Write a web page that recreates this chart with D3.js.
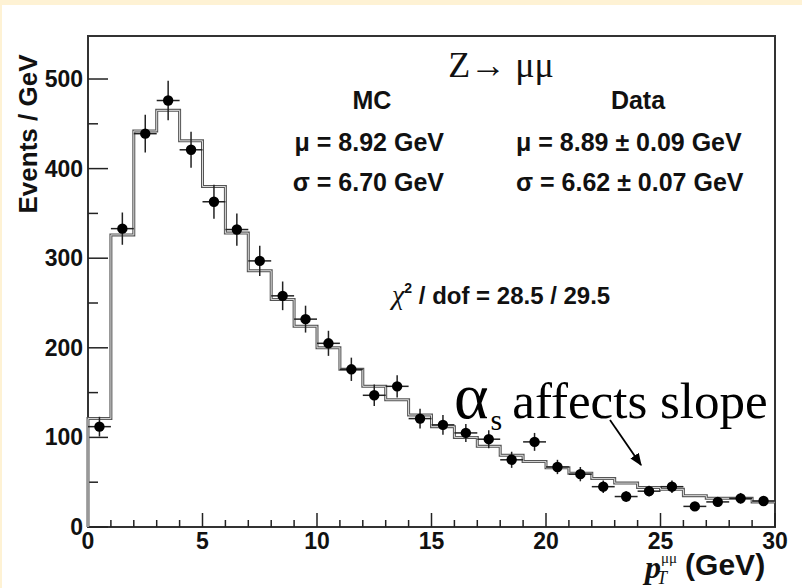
<!DOCTYPE html>
<html><head><meta charset="utf-8">
<script src="https://cdn.jsdelivr.net/npm/d3@7"></script>
<style>
html,body{margin:0;padding:0;background:#fff;}
svg{display:block;}
</style></head>
<body>
<script>
// ---- data ----
const binEdgesLow = d3.range(0, 30, 1); // bin low edges (GeV)
const mcValues = [121,326,442,465,431,380,328,286,254,224,200,176,157,142,125,112,100,90,80,73,66,60,54,49,44,42,35,32,32,28];
const dataCenters = [0.5,1.5,2.5,3.5,4.5,5.5,6.5,7.5,8.5,9.5,10.5,11.5,12.5,13.5,14.5,15.5,16.5,17.5,18.5,19.5,20.5,21.5,22.5,23.5,24.5,25.5,26.5,27.5,28.5,29.5];
const dataValues = [112,333,439,476,421,363,332,297,258,232,205,176,147,157,121,114,105,98,75,95,67,59,45,34,40,45,23,28,32,29];
const dataErrors = [11,18,21,22,20,19,18,17,16,15,14,13,12,12.5,11,11,10,10,9,10,8,8,7,6,6,7,5,5,6,5];
const xTicks = [0,5,10,15,20,25,30];
const yTicks = [0,100,200,300,400,500];

const W = 802, H = 588;
const svg = d3.select("body").append("svg").attr("width", W).attr("height", H);
const sans = "Liberation Sans, Arial, sans-serif";
const serif = "Liberation Serif, Times New Roman, serif";

// cream strips
svg.append("rect").attr("x",0).attr("y",0).attr("width",W).attr("height",5).attr("fill","#fef2d4");
svg.append("rect").attr("x",0).attr("y",0).attr("width",2).attr("height",H).attr("fill","#fef2d4");

const L = 88, R = 775, T = 36, B = 527;
const x = d3.scaleLinear().domain([0,30]).range([L,R]);
const y = d3.scaleLinear().domain([0,548]).range([B,T]);

// frame
svg.append("rect").attr("x",L).attr("y",T).attr("width",R-L).attr("height",B-T)
  .attr("fill","none").attr("stroke","#333").attr("stroke-width",2);

// ticks (inside, ROOT style)
const minorX = d3.range(0,31,1);
svg.append("g").selectAll("line").data(minorX).join("line")
  .attr("x1",d=>x(d)).attr("x2",d=>x(d)).attr("y1",B)
  .attr("y2",d=> d%5===0 ? B-14 : B-7)
  .attr("stroke","#222").attr("stroke-width",1.5);
const minorY = d3.range(0,548,50);
svg.append("g").selectAll("line").data(minorY).join("line")
  .attr("y1",d=>y(d)).attr("y2",d=>y(d)).attr("x1",L)
  .attr("x2",d=> d%100===0 ? L+20 : L+10)
  .attr("stroke","#222").attr("stroke-width",1.5);

// tick labels
svg.append("g").selectAll("text").data(xTicks).join("text")
  .attr("x",d=>x(d)).attr("y",549).attr("text-anchor","middle")
  .attr("font-family",sans).attr("font-weight","bold")
  .attr("font-size",23).attr("fill","#111").text(d=>d);
svg.append("g").selectAll("text").data(yTicks).join("text")
  .attr("x",83).attr("y",d=>y(d)+8).attr("text-anchor","end")
  .attr("font-family",sans).attr("font-weight","bold")
  .attr("font-size",23).attr("fill","#111").text(d=>d);

// axis titles
svg.append("text").attr("transform","translate(37,134) rotate(-90)")
  .attr("text-anchor","middle")
  .attr("font-family",sans).attr("font-weight","bold")
  .attr("font-size",26).attr("fill","#111").text("Events / GeV");

const xt = svg.append("text").attr("x",645).attr("y",578)
  .attr("font-family",serif).attr("fill","#111");
xt.append("tspan").attr("font-style","italic").attr("font-weight","bold").attr("font-size",32).text("p");
xt.append("tspan").attr("font-style","italic").attr("font-size",18).attr("dx",-4).attr("dy",6).text("T");
xt.append("tspan").attr("font-size",15).attr("dx",-6).attr("dy",-21).text("μμ");
xt.append("tspan").attr("font-family",sans).attr("font-weight","bold").attr("font-size",30)
  .attr("dx",8).attr("dy",12).text("(GeV)");

// MC histogram (step)
const stepPts = [];
stepPts.push([x(0), y(0)]);
binEdgesLow.forEach((lo,i)=>{
  stepPts.push([x(lo), y(mcValues[i])]);
  stepPts.push([x(lo+1), y(mcValues[i])]);
});
const line = d3.line();
svg.append("path").attr("d", line(stepPts)).attr("fill","none")
  .attr("stroke","#555").attr("stroke-width",3);
svg.append("path").attr("d", line(stepPts)).attr("fill","none")
  .attr("stroke","#ddd").attr("stroke-width",1);

// data points with error bars
const g = svg.append("g");
dataCenters.forEach((c,i)=>{
  const v = dataValues[i], e = dataErrors[i];
  g.append("line").attr("x1",x(c-0.5)).attr("x2",x(c+0.5)).attr("y1",y(v)).attr("y2",y(v))
    .attr("stroke","#222").attr("stroke-width",1.5);
  g.append("line").attr("x1",x(c)).attr("x2",x(c)).attr("y1",y(v-e)).attr("y2",y(v+e))
    .attr("stroke","#222").attr("stroke-width",1.5);
  g.append("circle").attr("cx",x(c)).attr("cy",y(v)).attr("r",5.2).attr("fill","#000");
});

// annotations
svg.append("text").attr("x",501).attr("y",77).attr("text-anchor","middle")
  .attr("font-family",serif).attr("font-size",36).attr("fill","#111").text("Z→ μμ");
function btxt(xp, yp, s, anchor){
  return svg.append("text").attr("x",xp).attr("y",yp).attr("text-anchor",anchor||"start")
    .attr("font-family",sans).attr("font-weight","bold").attr("font-size",25).attr("fill","#111").text(s);
}
btxt(372,109,"MC","middle");
btxt(638,109,"Data","middle");
btxt(444,151,"μ = 8.92 GeV","end");
btxt(444,191,"σ = 6.70 GeV","end");
btxt(516,151,"μ = 8.89 ± 0.09 GeV");
btxt(516,191,"σ = 6.62 ± 0.07 GeV");
const chi = svg.append("text").attr("x",392).attr("y",304)
  .attr("font-family",sans).attr("font-weight","bold").attr("font-size",24).attr("fill","#111");
chi.append("tspan").attr("font-family",serif).attr("font-weight","normal").attr("font-style","italic").attr("font-size",28).text("χ");
chi.append("tspan").attr("font-size",14).attr("dy",-11).text("2");
chi.append("tspan").attr("dy",11).text(" / dof = 28.5 / 29.5");

const al = svg.append("text").attr("x",454).attr("y",418)
  .attr("font-family",serif).attr("font-size",51).attr("fill","#000");
al.append("tspan").attr("font-size",66).text("α");
al.append("tspan").attr("font-size",30).attr("dy",12).attr("dx",2).text("s");
al.append("tspan").attr("dy",-12).attr("dx",10).text("affects slope");

// arrow
svg.append("defs").append("marker").attr("id","ah").attr("viewBox","0 0 10 10")
  .attr("refX",9).attr("refY",5).attr("markerWidth",7).attr("markerHeight",7).attr("orient","auto")
  .append("path").attr("d","M0,1 L10,5 L0,9 Z").attr("fill","#000");
svg.append("line").attr("x1",610).attr("y1",420).attr("x2",641).attr("y2",465)
  .attr("stroke","#000").attr("stroke-width",1.8).attr("marker-end","url(#ah)");
</script>
</body></html>
